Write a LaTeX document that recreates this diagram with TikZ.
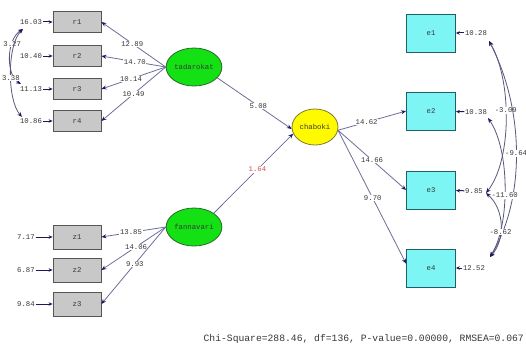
\documentclass[tikz,border=0pt]{standalone}
\usepackage{fontspec}
\setmonofont{Liberation Mono}
\usetikzlibrary{arrows.meta,shapes.geometric}
\definecolor{lnc}{RGB}{110,110,155}
\definecolor{arh}{RGB}{25,25,95}
\definecolor{boxg}{RGB}{200,200,200}
\definecolor{boxgd}{RGB}{85,85,85}
\definecolor{cyanf}{RGB}{125,245,245}
\definecolor{cyand}{RGB}{30,95,105}
\definecolor{greenf}{RGB}{20,225,20}
\definecolor{greend}{RGB}{40,105,40}
\definecolor{yelf}{RGB}{255,250,0}
\definecolor{yeld}{RGB}{125,125,40}
\definecolor{redl}{RGB}{215,75,75}
\definecolor{txt}{RGB}{55,55,55}
\begin{document}
\begin{tikzpicture}[x=1pt,y=-1pt,
  font=\ttfamily\fontsize{7.3}{8}\selectfont,
  ind/.style={draw=boxgd, fill=boxg, line width=0.8pt, minimum width=48pt, minimum height=21pt, inner sep=0pt, text=txt},
  indz/.style={ind, minimum height=24pt},
  indc/.style={draw=cyand, fill=cyanf, line width=0.8pt, minimum width=49pt, minimum height=38pt, inner sep=0pt, text=txt},
  latg/.style={ellipse, draw=greend, fill=greenf, line width=0.8pt, minimum width=48pt, minimum height=38pt, inner sep=0pt, text=txt},
  laty/.style={ellipse, draw=yeld, fill=yelf, line width=0.8pt, minimum width=46pt, minimum height=36pt, inner sep=0pt, text=txt},
  ld/.style={draw=lnc, line width=0.8pt, -{Stealth[length=5pt,width=4pt,color=arh]}},
  ea/.style={draw=arh, line width=1pt, -{Stealth[length=4pt,width=3.5pt,color=arh]}},
  cov/.style={draw=lnc!80!black, line width=0.8pt, {Stealth[length=5pt,width=4pt,color=arh]}-{Stealth[length=5pt,width=4pt,color=arh]}},
  lbl/.style={fill=white, inner sep=0.6pt, text=txt},
  elbl/.style={inner sep=0.6pt, text=txt},
]
\useasboundingbox (0,0) rectangle (526,353);
\fill[white] (0,0) rectangle (526,353);

% latent variables
\node[latg] (tad) at (194,67) {tadarokat};
\node[latg] (fan) at (194,227) {fannavari};
\node[laty] (chab) at (315,127) {chaboki};

% indicators left
\node[ind] (r1) at (77,22) {r1};
\node[ind] (r2) at (77,56) {r2};
\node[ind] (r3) at (77,89) {r3};
\node[ind] (r4) at (77,121) {r4};
\node[indz] (z1) at (77,237) {z1};
\node[indz] (z2) at (77,270) {z2};
\node[indz] (z3) at (77,304) {z3};

% indicators right
\node[indc] (e1) at (431,33) {e1};
\node[indc] (e2) at (431,111) {e2};
\node[indc] (e3) at (431,190) {e3};
\node[indc] (e4) at (431,268) {e4};

% error variances left
\node[elbl] (er1) at (31,22) {16.03};
\node[elbl] (er2) at (31,56) {10.40};
\node[elbl] (er3) at (31,89) {11.13};
\node[elbl] (er4) at (31,121) {10.86};
\node[elbl] (ez1) at (26,237) {7.17};
\node[elbl] (ez2) at (26,270) {6.87};
\node[elbl] (ez3) at (26,304) {9.84};
\foreach \a/\b in {er1/r1,er2/r2,er3/r3,er4/r4,ez1/z1,ez2/z2,ez3/z3}
  \draw[ea] (\a) -- (\b);

% error variances right
\node[elbl] (ee1) at (476,33) {10.28};
\node[elbl] (ee2) at (476,112) {10.38};
\node[elbl] (ee3) at (474,191) {9.85};
\node[elbl] (ee4) at (474,268) {12.52};
\foreach \a/\b in {ee1/e1,ee2/e2,ee3/e3,ee4/e4}
  \draw[ea] (\a) -- (\b);

% loadings
\draw[ld] (tad.west) -- node[lbl,pos=0.52]{12.89} (r1.east);
\draw[ld] (tad.west) -- node[lbl,pos=0.48]{14.70} (r2.east);
\draw[ld] (tad.west) -- node[lbl,pos=0.54]{10.14} (r3.east);
\draw[ld] (tad.west) -- node[lbl,pos=0.50]{10.49} (r4.east);
\draw[ld] (fan.west) -- node[lbl,pos=0.54]{13.85} (z1.east);
\draw[ld] (fan.west) -- node[lbl,pos=0.46]{14.06} (z2.east);
\draw[ld] (fan.west) -- node[lbl,pos=0.48]{9.93} (z3.east);
\draw[ld] (chab.-8) -- node[lbl,pos=0.42]{14.62} (e2.west);
\draw[ld] (chab.-8) -- node[lbl,pos=0.50]{14.66} (e3.west);
\draw[ld] (chab.-8) -- node[lbl,pos=0.51]{9.70} (e4.170);

% structural paths
\draw[ld] (tad.-25) -- node[lbl,pos=0.55]{5.08} (chab.185);
\draw[ld] (fan.35) -- node[lbl,pos=0.55,text=redl]{1.64} (chab.197);

% covariances left
\coordinate (cr1) at (23,29);
\coordinate (cr3) at (21,84);
\coordinate (cr4) at (22,117);
\draw[cov] (cr1) .. controls (6,40) and (6,75) .. node[lbl,pos=0.3]{3.27} (cr3);
\draw[cov] (cr1) .. controls (7,45) and (7,100) .. node[lbl,pos=0.55]{3.38} (cr4);

% covariances right
\coordinate (ce1) at (489,41);
\coordinate (ce2) at (488,118);
\coordinate (ce3) at (486,193);
\coordinate (ce4) at (490,257);
\draw[cov] (ce1) .. controls (512,80) and (512,160) .. node[lbl,pos=0.45]{-3.09} (ce3);
\draw[cov] (ce1) .. controls (525,110) and (525,200) .. node[lbl,pos=0.5]{-9.64} (ce4);
\draw[cov] (ce2) .. controls (510,150) and (510,225) .. node[lbl,pos=0.55]{-11.60} (ce4);
\draw[cov] (ce3) .. controls (505,210) and (505,240) .. node[lbl,pos=0.6]{-8.62} (ce4);

% fit statistics
\node[anchor=east, inner sep=0pt, text=txt, font=\ttfamily\fontsize{9.7}{11}\selectfont] (fit) at (524,339) {Chi-Square=288.46, df=136, P-value=0.00000, RMSEA=0.067};
\end{tikzpicture}
\end{document}
